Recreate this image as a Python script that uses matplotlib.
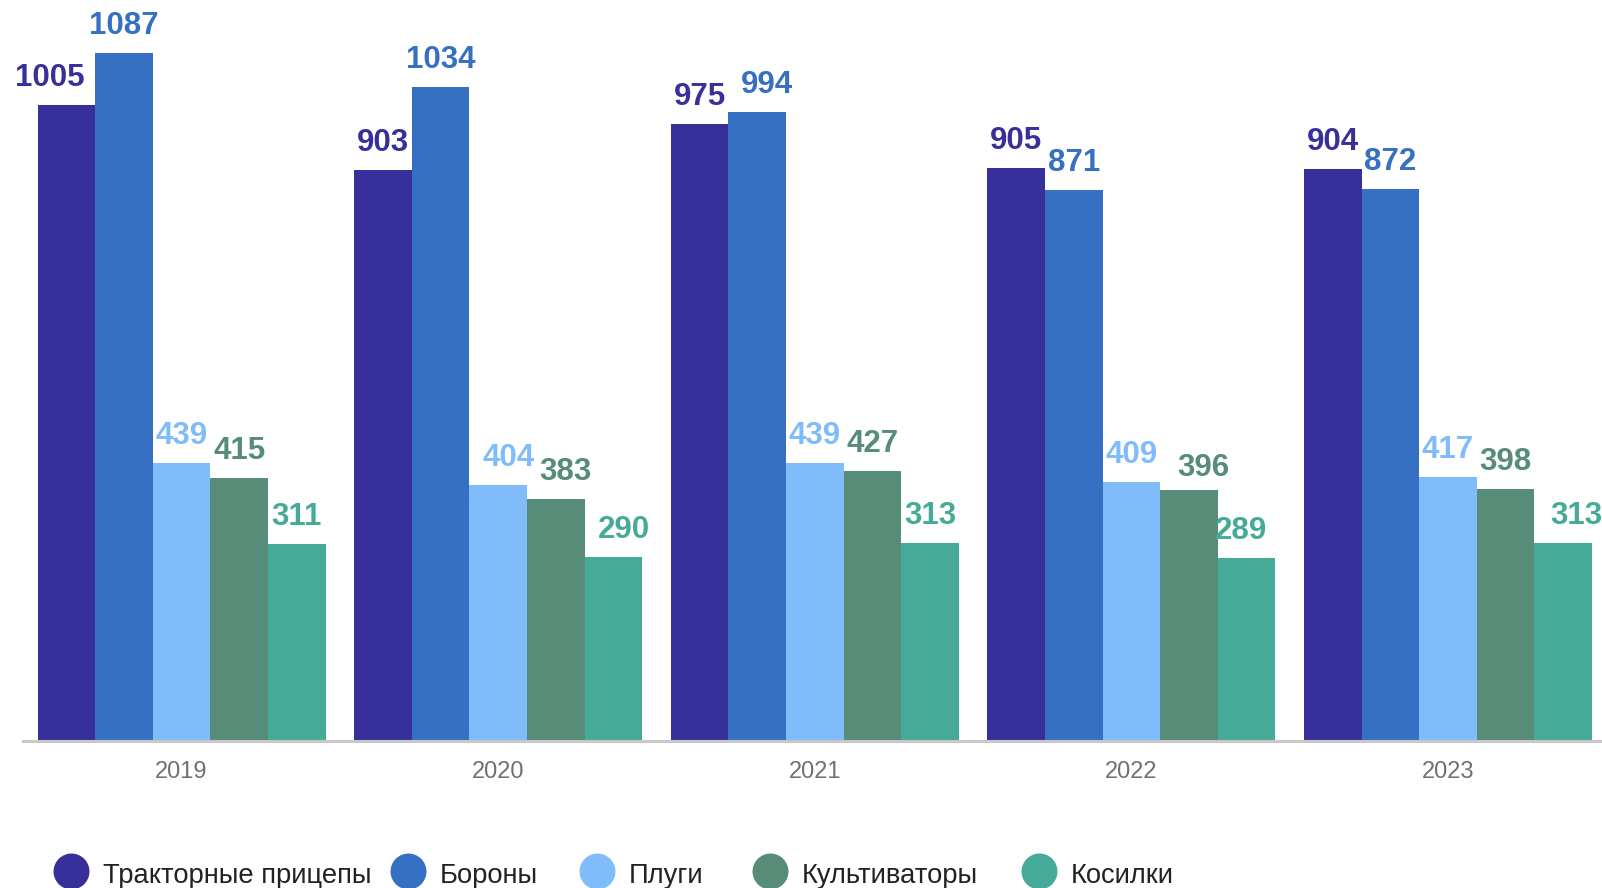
import numpy as np
import matplotlib
matplotlib.use("Agg")
import matplotlib.pyplot as plt

# Данные графика
years = ["2019", "2020", "2021", "2022", "2023"]
series_names = ["Тракторные прицепы", "Бороны", "Плуги", "Культиваторы", "Косилки"]
trailers = [1005, 903, 975, 905, 904]
harrows = [1087, 1034, 994, 871, 872]
ploughs = [439, 404, 439, 409, 417]
cultivators = [415, 383, 427, 396, 398]
mowers = [311, 290, 313, 289, 313]

series = [trailers, harrows, ploughs, cultivators, mowers]
colors = ["#38309A", "#3670C2", "#80BBFA", "#568C78", "#46AA98"]

plt.rcParams['font.family'] = ['Liberation Sans', 'DejaVu Sans']

W, H = 1602, 888
fig = plt.figure(figsize=(W / 100, H / 100), dpi=100)
# оси занимают почти весь рисунок, справа чуть выходят за край
ax = fig.add_axes([23.3 / W, (H - 741) / H, 1583 / W, 741 / H])

x = np.arange(len(years))
bar_w = 0.182
px = 0.72  # пиксели -> пункты при dpi=100
# сдвиги подписей (dx, dy в пикселях), как в исходнике, чтобы не налезали
label_shift = {(0, 0): (-17, 0), (1, 2): (10, 0), (1, 3): (10, 0), (1, 4): (10, 0),
               (2, 1): (10, 0), (3, 3): (14, -5), (3, 4): (-6, 0), (4, 4): (13, 0)}

for j, (name, vals, col) in enumerate(zip(series_names, series, colors)):
    pos = x + (j - 2) * bar_w
    ax.bar(pos, vals, width=bar_w, color=col, linewidth=0)
    for i, (p, v) in enumerate(zip(pos, vals)):
        dx, dy = label_shift.get((i, j), (0, 0))
        ax.annotate(str(v), (p, v), xytext=(dx * px, (19 + dy) * px), textcoords='offset points',
                    ha='center', va='baseline', fontsize=22.5, fontweight='bold',
                    color=col, annotation_clip=False)

ax.set_xlim(-0.5, 4.5)
ax.set_ylim(0, 1171)
ax.set_xticks(x)
ax.set_xticklabels(years, fontsize=17, color="#707070")
ax.tick_params(axis='x', length=0, pad=14.5)
ax.set_yticks([])
for s in ['top', 'left', 'right']:
    ax.spines[s].set_visible(False)
ax.spines['bottom'].set_color("#C8C8C8")
ax.spines['bottom'].set_linewidth(2.2)

# Легенда вручную: кружки и подписи в пиксельных координатах
lax = fig.add_axes([0, 0, 1, 1])
lax.set_xlim(0, W)
lax.set_ylim(H, 0)
lax.axis('off')
legend_x = [71, 408, 597, 770, 1039]
for lx, name, col in zip(legend_x, series_names, colors):
    lax.scatter([lx], [871], s=670, color=col, linewidth=0, clip_on=False)
    lax.text(lx + 32, 883, name, fontsize=19.7, color="#222222", va='baseline', ha='left')

fig.savefig("out.png", dpi=100)
